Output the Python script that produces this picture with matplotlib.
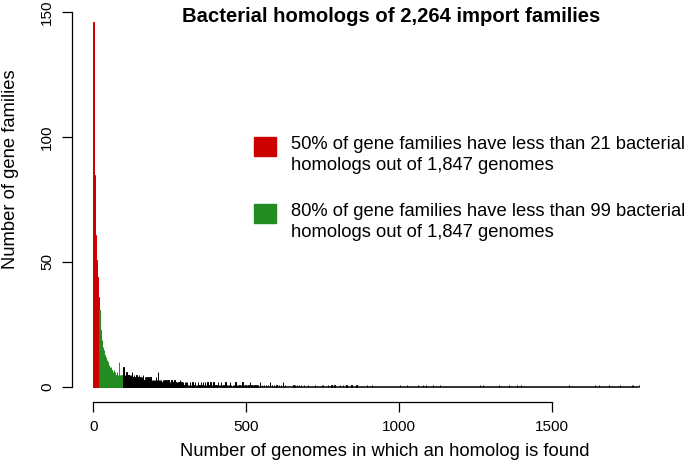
import numpy as np
import matplotlib.pyplot as plt
from matplotlib.patches import Rectangle

plt.rcParams['font.family'] = ['Liberation Sans', 'DejaVu Sans']

RED = '#CD0000'
GREEN = '#228B22'

# number of gene families per number of genomes with a homolog
red_x = np.arange(1, 21)
red_n = [146, 106, 95, 85, 78, 72, 66, 61, 57, 54,
         51, 48, 46, 44, 42, 40, 38, 36, 34, 32]

green_x = np.arange(21, 99)
green_n = [31, 27, 25, 23, 22, 20, 18, 19, 17, 16,
           15, 16, 14, 13, 15, 12, 13, 11, 12, 10,
           11, 12, 10, 9, 11, 9, 10, 8, 9, 8,
           7, 9, 8, 6, 8, 7, 6, 8, 5, 7,
           6, 7, 5, 6, 5, 6, 4, 5, 7, 5,
           4, 6, 5, 4, 5, 5, 3, 4, 6, 4,
           4, 5, 3, 4, 10, 4, 3, 5, 4, 3,
           4, 3, 5, 3, 4, 3, 4, 3]

black_n = [8, 5, 4, 6, 3, 5, 4, 4, 5, 3, 6, 4, 3, 5, 4, 4, 3, 5, 4, 3,
           4, 5, 3, 4, 2, 5, 3, 4, 3, 6, 4, 3, 2, 4, 3, 5, 3, 4, 2, 3,
           4, 3, 2, 5, 3, 3, 4, 2, 3, 4, 3, 2, 5, 3, 2, 3, 4, 2, 3, 2,
           3, 4, 2, 3, 2, 5, 3, 2, 3, 1, 4, 3, 2, 3, 2, 3, 4, 2, 1, 3,
           2, 3, 4, 2, 3, 1, 2, 3, 2, 4, 2, 3, 1, 2, 3, 2, 1, 3, 2, 2,
           3, 2, 1, 3, 2, 2, 4, 1, 2, 3, 1, 2, 2, 6, 2, 1, 3, 2, 1, 2,
           3, 1, 2, 2, 3, 1, 2, 0, 2, 3, 1, 2, 1, 2, 3, 1, 2, 0, 2, 1,
           2, 3, 1, 2, 1, 0, 2, 1, 3, 1, 2, 1, 2, 0, 1, 2, 1, 3, 1, 2,
           1, 2, 0, 1, 2, 1, 1, 3, 1, 0, 2, 1, 1, 2, 0, 1, 2, 1, 1, 0,
           2, 1, 1, 0, 2, 1, 3, 1, 0, 1, 2, 1, 0, 1, 1, 2, 0, 1, 1, 0,
           1, 2]
black_x = np.arange(99, 99 + len(black_n))

tail_x = [303, 306, 308, 311, 314, 317, 318, 321, 325, 328, 330, 334, 337, 339,
          342, 345, 348, 352, 355, 357, 360, 363, 366, 369, 372, 374, 378, 381,
          384, 388, 391, 394, 397, 401, 404, 408, 411, 415, 418, 422, 426, 429,
          433, 437, 441, 444, 448, 452, 457, 461, 466, 470, 475, 479, 484, 489,
          493, 498, 503, 508, 513, 518, 523, 528, 534, 540, 546, 552, 558, 565,
          571, 578, 585, 592, 600, 607, 614, 622, 628,
          655, 661, 668, 674, 681, 690, 703, 725, 748, 752, 768, 780, 790, 807,
          817, 829, 845, 862, 895, 912, 1003, 1026, 1062, 1078, 1090, 1111, 1134,
          1265, 1276, 1327, 1360, 1386, 1399, 1556, 1641, 1654, 1687, 1723, 1762,
          1767, 1785]
tail_n = [2, 1, 2, 1, 1, 2, 1, 1, 2, 1, 1, 2, 1, 1,
          2, 1, 1, 2, 1, 1, 2, 1, 2, 1, 1, 2, 1, 1,
          2, 1, 1, 2, 1, 1, 1, 2, 1, 1, 2, 1, 1, 1,
          2, 1, 1, 1, 2, 1, 1, 1, 2, 1, 1, 1, 1, 2,
          1, 1, 1, 1, 2, 1, 1, 1, 1, 1, 2, 1, 1, 1,
          1, 2, 1, 1, 1, 1, 1, 2, 1,
          1, 1, 1, 1, 1, 1, 1, 1, 1, 1, 1, 1, 1, 1,
          1, 1, 1, 1, 1, 1, 1, 1, 1, 1, 1, 1, 1,
          1, 1, 1, 1, 1, 1, 1, 1, 1, 1, 1, 1,
          1, 1]

W, H = 686, 463
fig = plt.figure(figsize=(W / 100, H / 100), dpi=100)
ax = fig.add_axes([72 / W, 61 / H, 588 / W, 390 / H])

def draw(x, n, c):
    ax.bar(np.asarray(x) - 1, n, width=1, align='edge', color=c,
           edgecolor=c, linewidth=0.7)

ax.plot([0, max(tail_x)], [0, 0], color='#333333', lw=1.4,
        solid_capstyle='butt', zorder=1)
draw(red_x, red_n, RED)
draw(green_x, green_n, GREEN)
draw(black_x, black_n, 'black')
draw(tail_x, tail_n, 'black')

ax.set_xlim(-69.6, 1853.8)
ax.set_ylim(-6, 150)
for s in ['top', 'right']:
    ax.spines[s].set_visible(False)
ax.spines['left'].set_bounds(0, 150)
ax.spines['bottom'].set_bounds(0, 1500)
for s in ['left', 'bottom']:
    ax.spines[s].set_linewidth(0.9)
ax.set_xticks([0, 500, 1000, 1500])
ax.set_yticks([0, 50, 100, 150])
ax.tick_params(length=7, width=0.9, labelsize=11, pad=6)
ax.tick_params(axis='y', labelrotation=90)
for lab in ax.get_yticklabels():
    lab.set_va('center')

fig.text(391 / W, 1 - 17 / H, 'Bacterial homologs of 2,264 import families',
         ha='center', va='center', fontsize=14.6, fontweight='bold')
fig.text(385 / W, 1 - 452 / H, 'Number of genomes in which an homolog is found',
         ha='center', va='center', fontsize=13.2)
fig.text(11 / W, 1 - 169 / H, 'Number of gene families', rotation=90,
         ha='center', va='center', fontsize=13.2)

legend_items = [
    (RED, 137, ['50% of gene families have less than 21 bacterial',
                'homologs out of 1,847 genomes']),
    (GREEN, 204, ['80% of gene families have less than 99 bacterial',
                  'homologs out of 1,847 genomes']),
]
for col, top, lines in legend_items:
    fig.add_artist(Rectangle((254 / W, 1 - (top + 19) / H), 22 / W, 19 / H,
                             transform=fig.transFigure, color=col))
    for i, txt in enumerate(lines):
        fig.text(291 / W, 1 - (top + 12 + 21 * i) / H, txt,
                 ha='left', va='baseline', fontsize=13.2)

fig.savefig('out.png', dpi=100)
